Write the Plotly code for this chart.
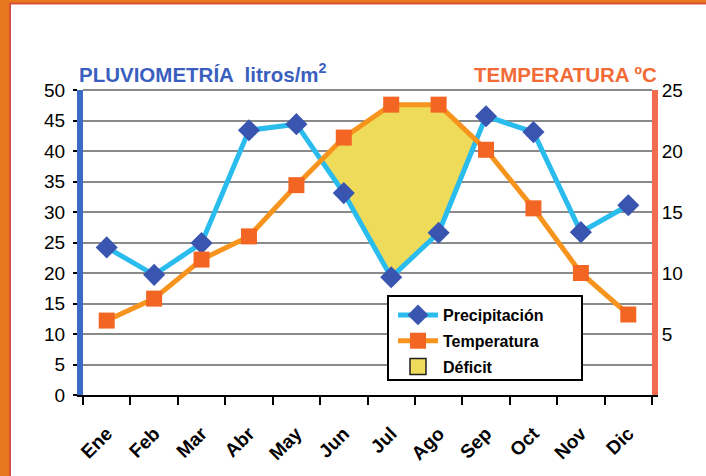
import plotly.graph_objects as go

months = ["Ene", "Feb", "Mar", "Abr", "May", "Jun", "Jul", "Ago", "Sep", "Oct", "Nov", "Dic"]
precip = [24.2, 19.7, 24.9, 43.4, 44.4, 33.1, 19.3, 26.6, 45.7, 43.1, 26.7, 31.1]
temp = [6.1, 7.9, 11.1, 13.0, 17.2, 21.1, 23.8, 23.8, 20.1, 15.3, 10.0, 6.6]
y_left_ticks = [0, 5, 10, 15, 20, 25, 30, 35, 40, 45, 50]
y_right_ticks = [5, 10, 15, 20, 25]

W, H = 706, 476
L, R, T, B = 83, 54, 90, 81
pw, ph = W - L - R, H - T - B


def px_x(p):
    return (p - L) / pw


def px_y(p):
    return (H - B - p) / ph


xs = list(range(len(months)))
# temperature expressed on the rainfall scale (2 mm per degree)
t2 = [t * 2 for t in temp]

# build the deficit polygon where temperature curve lies above precipitation
diff = [a - b for a, b in zip(t2, precip)]
upper_x, upper_y, lower_x, lower_y = [], [], [], []
for i in range(len(xs)):
    if i > 0 and (diff[i - 1] <= 0) != (diff[i] <= 0):
        f = diff[i - 1] / (diff[i - 1] - diff[i])
        cx = xs[i - 1] + f
        cy = precip[i - 1] + f * (precip[i] - precip[i - 1])
        upper_x.append(cx); upper_y.append(cy)
        lower_x.append(cx); lower_y.append(cy)
    if diff[i] > 0:
        upper_x.append(xs[i]); upper_y.append(t2[i])
        lower_x.append(xs[i]); lower_y.append(precip[i])
poly_x = upper_x + lower_x[::-1]
poly_y = upper_y + lower_y[::-1]

font = "Liberation Sans, Arial, sans-serif"

fig = go.Figure()
fig.add_trace(go.Scatter(
    x=poly_x, y=poly_y, fill="toself", mode="lines",
    fillcolor="#efdb5a", line=dict(color="#efdb5a", width=0),
    showlegend=False, hoverinfo="skip"))
fig.add_trace(go.Scatter(
    x=xs, y=temp, yaxis="y2", mode="lines+markers", name="Temperatura",
    line=dict(color="#f7941d", width=5), legendgroup="t",
    marker=dict(symbol="square", size=16, color="#f26522"), legendrank=2))
fig.add_trace(go.Scatter(
    x=xs, y=precip, mode="lines+markers", name="Precipitación",
    line=dict(color="#2bbcee", width=5), legendgroup="p",
    marker=dict(symbol="diamond", size=17, color="#3a55b0"), legendrank=1))
fig.add_trace(go.Scatter(
    x=[None], y=[None], mode="markers", name="Déficit", legendgroup="d",
    marker=dict(symbol="square", size=18, color="#efdb5a",
                line=dict(color="#222222", width=1.5)), legendrank=3))

fig.update_layout(
    width=W, height=H,
    margin=dict(l=L, r=R, t=T, b=B, autoexpand=False),
    paper_bgcolor="#e8781e",
    plot_bgcolor="#dfe2e3",
    font=dict(family=font, color="black"),
    showlegend=True,
    legend=dict(
        x=px_x(393), y=px_y(298), xanchor="left", yanchor="top",
        bgcolor="rgba(0,0,0,0)", borderwidth=0,
        font=dict(size=16, family=font, weight="bold", color="black"),
        itemwidth=40, tracegroupgap=2,
    ),
    xaxis=dict(
        range=[-0.5, 11.5], tickmode="array", tickvals=xs, ticktext=months,
        ticks="", tickangle=-45, ticklabelstandoff=18, automargin=False,
        tickfont=dict(size=19, family=font, weight="bold", color="black"),
        showgrid=False, zeroline=False,
        showline=True, linecolor="black", linewidth=2,
        minor=dict(tickmode="linear", tick0=-0.5, dtick=1, ticks="outside",
                   ticklen=8, tickwidth=2, tickcolor="black", showgrid=False),
    ),
    yaxis=dict(
        range=[0, 50], tickvals=y_left_ticks, ticks="outside", ticklen=4,
        tickwidth=2, tickcolor="black", ticklabelstandoff=4, automargin=False,
        tickfont=dict(size=19, family=font, color="black"),
        showgrid=True, gridcolor="#8a8a8a", gridwidth=2,
        zeroline=False, showline=True, linecolor="#3a6cc6", linewidth=6,
    ),
    yaxis2=dict(
        range=[0, 25], tickvals=y_right_ticks, overlaying="y", side="right",
        ticks="", tickfont=dict(size=19, family=font, color="black"),
        automargin=False,
        showgrid=False, zeroline=False, showline=True,
        linecolor="#f26c4f", linewidth=6,
    ),
    annotations=[
        dict(xref="paper", yref="paper", x=px_x(77), y=px_y(73),
             xanchor="left", yanchor="middle", showarrow=False,
             text="PLUVIOMETRÍA  litros/m<sup>2</sup>",
             font=dict(size=20.5, family=font, weight="bold", color="#3a5fbf")),
        dict(xref="paper", yref="paper", x=px_x(659), y=px_y(75),
             xanchor="right", yanchor="middle", showarrow=False,
             text="TEMPERATURA ºC",
             font=dict(size=20.5, family=font, weight="bold", color="#f26a35")),
    ],
    shapes=[
        # red inner edge of the frame, then the white card
        dict(type="rect", xref="paper", yref="paper",
             x0=px_x(9), x1=px_x(720), y0=px_y(490), y1=px_y(2.5),
             fillcolor="#d9503a", line=dict(width=0), layer="below"),
        dict(type="rect", xref="paper", yref="paper",
             x0=px_x(11), x1=px_x(720), y0=px_y(490), y1=px_y(4.5),
             fillcolor="white", line=dict(width=0), layer="below"),
        dict(type="line", xref="paper", yref="paper", x0=0, x1=1, y0=1, y1=1,
             line=dict(color="#8a8a8a", width=2), layer="above"),
        dict(type="rect", xref="paper", yref="paper",
             x0=px_x(388), x1=px_x(582), y0=px_y(380), y1=px_y(296),
             fillcolor="white", line=dict(color="black", width=2), layer="above"),
    ],
)

fig.write_html(
    "out.html", config={"displayModeBar": False},
    post_script=("document.documentElement.style.overflow='hidden';"
                 "document.body.style.margin='0';"
                 "document.body.style.overflow='hidden';"
                 "window.scrollTo(0,0);"))
